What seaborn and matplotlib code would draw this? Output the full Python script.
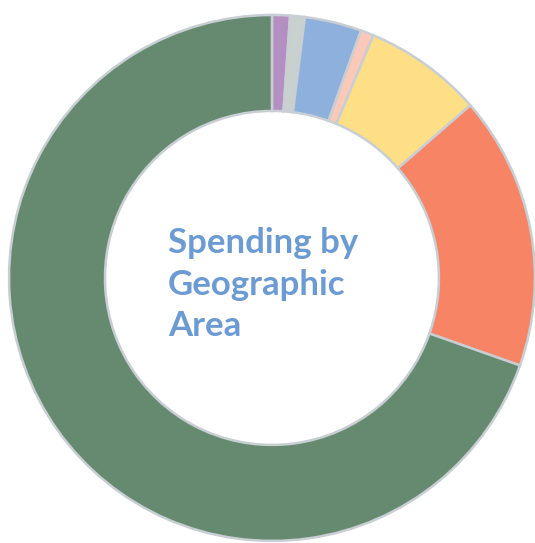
import matplotlib
matplotlib.use("Agg")
import matplotlib.pyplot as plt
import seaborn as sns

# spending share by geographic area, clockwise from 12 o'clock (%)
areas = ["Area A", "Area B", "Area C", "Area D", "Area E", "Area F", "Area G"]
shares = [1.1, 0.9, 3.5, 0.8, 7.3, 16.8, 69.6]
colors = ["#b48fc2", "#c9d1cf", "#8eb0dc", "#fcc9b9", "#fedf85", "#f78465", "#668a6f"]
title = "Spending by\nGeographic\nArea"


def make_donut():
    sns.set_theme(style="white")
    plt.rcParams["font.family"] = ["Lato", "DejaVu Sans"]

    fig = plt.figure(figsize=(5.35, 5.43), dpi=100)
    ax = fig.add_axes([0, 0, 1, 1])
    ax.pie(shares, colors=colors, startangle=90, counterclock=False,
           radius=1.0,
           wedgeprops=dict(width=0.365, edgecolor="#c8ced3", linewidth=1.8))
    ax.set_xlim(-1.034, 1.0)
    ax.set_ylim(-1.008, 1.057)
    ax.set_aspect("equal")
    ax.axis("off")

    ax.text(-0.395, 0.195, title, ha="left", va="top", fontsize=25,
            fontweight="bold", color="#6b9bd2", linespacing=1.38)

    fig.savefig("out.png", dpi=100, facecolor="white")
    plt.close(fig)


if __name__ == "__main__":
    make_donut()
